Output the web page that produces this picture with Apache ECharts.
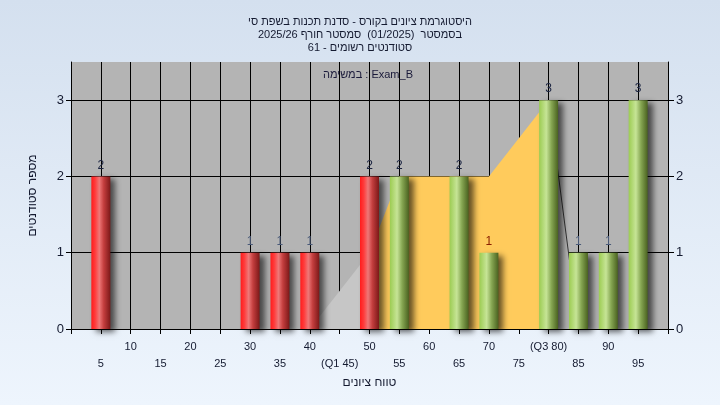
<!DOCTYPE html>
<html><head><meta charset="utf-8">
<script src="https://cdn.jsdelivr.net/npm/echarts@6/dist/echarts.min.js"></script>
<style>html,body{margin:0;padding:0;}#c{width:720px;height:405px;}</style>
</head><body><div id="c"></div>
<script>
// ---- data ----
const titleLine1 = "היסטוגרמת ציונים בקורס - סדנת תכנות בשפת סי";
const titleLine2 = "בסמסטר  (01/2025)  סמסטר חורף 2025/26";
const titleLine3 = "סטודנטים רשומים - 61";
const legendText = "במשימה : Exam_B";
const xAxisTitle = "טווח ציונים";
const yAxisTitle = "מספר סטודנטים";

const redScores = [5, 30, 35, 40, 50];
const redCounts = [2, 1, 1, 1, 2];
const greenScores = [55, 65, 70, 80, 85, 90, 95];
const greenCounts = [2, 2, 1, 3, 1, 1, 3];
const q1 = 45, q3 = 80;

// distribution areas (score, value)
const lowTailX = [40, 50, 50];
const lowTailY = [0, 1, 0];
const iqrX = [45, 55, 70, 80, 80];
const iqrY = [0, 2, 2, 3, 0];
const highTailX = [80, 85];
const highTailY = [3, 0];

const xMin = 0, xMax = 100, xStep = 5;
const yMin = 0, yMax = 3.5, yStep = 1;

// ---- chart ----
const zip = (a, b) => a.map((v, i) => [v, b[i]]);
const FONT = 'Liberation Sans';
const labelColorFor = (x, y) => (x === 70 ? '#8a2000' : (y === 1 ? '#4a5a78' : '#1a2340'));
const mkBars = (xs, ys) => xs.map((x, i) => ({
  value: [x, ys[i]],
  label: { color: labelColorFor(x, ys[i]) }
}));

const redGrad = new echarts.graphic.LinearGradient(0, 0, 1, 0, [
  { offset: 0, color: '#ff1c1c' }, { offset: 0.2, color: '#ff3c3c' },
  { offset: 0.42, color: '#ee7878' }, { offset: 0.65, color: '#c43e3e' },
  { offset: 1, color: '#7c1818' }]);
const greenGrad = new echarts.graphic.LinearGradient(0, 0, 1, 0, [
  { offset: 0, color: '#9ccc52' }, { offset: 0.38, color: '#c6e496' },
  { offset: 0.65, color: '#86a652' }, { offset: 1, color: '#4a6220' }]);

const barCommon = {
  type: 'bar', barWidth: 19, z: 5,
  label: { show: true, position: 'top', distance: 5, fontFamily: FONT, fontSize: 12,
    formatter: p => String(p.value[1]) },
};

const chart = echarts.init(document.getElementById('c'), null, { renderer: 'canvas' });
chart.setOption({
  animation: false,
  backgroundColor: new echarts.graphic.LinearGradient(0, 0, 0, 1, [
    { offset: 0, color: '#d4e0ef' }, { offset: 1, color: '#eef5fd' }]),
  title: {
    text: titleLine1 + '\n' + titleLine2 + '\n' + titleLine3,
    left: 'center', top: 10,
    textStyle: { fontFamily: FONT, fontSize: 11, fontWeight: 'normal', color: '#141a30', lineHeight: 13 }
  },
  graphic: [{
    type: 'text', x: 368, y: 75, z: 10,
    style: { text: legendText, fill: '#1a1a3a', font: '11px "Liberation Sans"', textAlign: 'center', textVerticalAlign: 'middle' }
  }],
  grid: { left: 71, right: 52, top: 62, bottom: 76, show: true, backgroundColor: '#b4b4b4', borderWidth: 0 },
  xAxis: {
    type: 'value', min: xMin, max: xMax, interval: xStep,
    name: xAxisTitle, nameLocation: 'middle', nameGap: 46,
    nameTextStyle: { fontFamily: FONT, fontSize: 12, color: '#141a30' },
    axisLine: { show: true, onZero: false, lineStyle: { color: '#000', width: 1 } },
    axisTick: { show: true, length: 5, lineStyle: { color: '#000' } },
    splitLine: { show: true, lineStyle: { color: '#000', width: 1 } },
    axisLabel: {
      fontFamily: FONT, fontSize: 11, color: '#141a30', margin: 9, lineHeight: 17,
      formatter: v => {
        if (v <= xMin || v >= xMax) return '';
        let t = String(v);
        if (v === q1) t = '(Q1 ' + v + ')';
        if (v === q3) t = '(Q3 ' + v + ')';
        return (v % 10 === 0) ? t : '\n' + t;
      }
    }
  },
  yAxis: [{
    type: 'value', min: yMin, max: yMax, interval: yStep, position: 'left',
    name: yAxisTitle, nameLocation: 'middle', nameGap: 32,
    nameTextStyle: { fontFamily: FONT, fontSize: 12, color: '#141a30' },
    axisLine: { show: true, lineStyle: { color: '#000' } },
    axisTick: { show: true, length: 5, lineStyle: { color: '#000' } },
    splitLine: { show: true, showMaxLine: false, lineStyle: { color: '#000', width: 1 } },
    axisLabel: { fontFamily: FONT, fontSize: 13, color: '#141a30', margin: 7, showMaxLabel: false }
  }, {
    type: 'value', min: yMin, max: yMax, interval: yStep, position: 'right',
    axisLine: { show: true, lineStyle: { color: '#000' } },
    axisTick: { show: true, length: 6, lineStyle: { color: '#000' } },
    splitLine: { show: false },
    axisLabel: { fontFamily: FONT, fontSize: 13, color: '#141a30', margin: 8, showMaxLabel: false }
  }],
  series: [
    { type: 'line', data: zip(iqrX, iqrY), showSymbol: false, symbol: 'none', z: 2,
      lineStyle: { width: 0 }, areaStyle: { color: '#ffcb5c', opacity: 1 } },
    { type: 'line', data: zip(lowTailX, lowTailY), showSymbol: false, symbol: 'none', z: 3,
      lineStyle: { width: 0 }, areaStyle: { color: '#c6c6c6', opacity: 1 } },
    { type: 'line', data: zip(highTailX, highTailY), showSymbol: false, symbol: 'none', z: 3,
      lineStyle: { width: 1, color: '#333' }, areaStyle: { color: '#b4b4b4', opacity: 1 } },
    Object.assign({}, barCommon, {
      name: 'low', data: mkBars(redScores, redCounts),
      itemStyle: { color: redGrad, shadowColor: 'rgba(0,0,0,0.6)', shadowBlur: 6, shadowOffsetX: 5, shadowOffsetY: 3 }
    }),
    Object.assign({}, barCommon, {
      name: 'high', data: mkBars(greenScores, greenCounts), barGap: '-100%',
      itemStyle: { color: greenGrad, shadowColor: 'rgba(0,0,0,0.6)', shadowBlur: 6, shadowOffsetX: 5, shadowOffsetY: 3 }
    })
  ]
});
</script>
</body></html>
